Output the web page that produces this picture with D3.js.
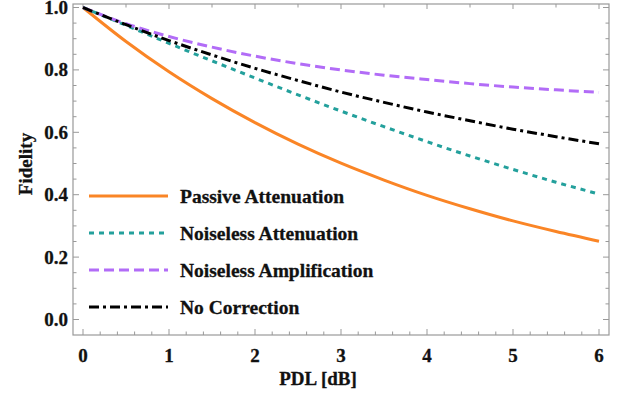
<!DOCTYPE html>
<html>
<head>
<meta charset="utf-8">
<script src="https://cdn.jsdelivr.net/npm/d3@7.9.0/dist/d3.min.js"></script>
<style>
  body { margin: 0; background: #fff; }
</style>
</head>
<body>
<svg id="chart" width="622" height="403"></svg>
<script>
// PDL values in dB (x) and fidelity
const pdl = [0, 0.5, 1, 1.5, 2, 2.5, 3, 3.5, 4, 4.5, 5, 5.5, 6];
const passiveAtt = [1, 0.891, 0.794, 0.708, 0.631, 0.562, 0.501, 0.447, 0.398, 0.355, 0.316, 0.282, 0.251];
const noiselessAtt = [1, 0.943, 0.885, 0.829, 0.774, 0.720, 0.668, 0.618, 0.570, 0.524, 0.481, 0.440, 0.402];
const noiselessAmp = [1, 0.948, 0.907, 0.873, 0.844, 0.820, 0.800, 0.783, 0.769, 0.756, 0.745, 0.736, 0.728];
const noCorrection = [1, 0.945, 0.894, 0.848, 0.805, 0.766, 0.729, 0.696, 0.665, 0.637, 0.610, 0.586, 0.563];

const seriesNames = ["Passive Attenuation", "Noiseless Attenuation", "Noiseless Amplification", "No Correction"];
const xTicks = [0, 1, 2, 3, 4, 5, 6];
const yTicks = [0, 0.2, 0.4, 0.6, 0.8, 1.0];

const series = [
  { name: seriesNames[0], values: passiveAtt, color: "#fa8526", dash: null },
  { name: seriesNames[1], values: noiselessAtt, color: "#23a09c", dash: "5,5" },
  { name: seriesNames[2], values: noiselessAmp, color: "#b26cf7", dash: "10,5" },
  { name: seriesNames[3], values: noCorrection, color: "#000", dash: "10,4,3,4" }
];

const FONT = "'Liberation Serif', 'Times New Roman', serif";

const svg = d3.select("#chart");
const frame = { left: 73, right: 609, top: 4, bottom: 335 };

const x = d3.scaleLinear().domain([0, 6]).range([83, 599]);
const y = d3.scaleLinear().domain([0, 1]).range([319.5, 7.5]);

const axisColor = "#999";

// frame
svg.append("rect")
  .attr("x", frame.left).attr("y", frame.top)
  .attr("width", frame.right - frame.left).attr("height", frame.bottom - frame.top)
  .attr("fill", "none").attr("stroke", axisColor).attr("stroke-width", 1.2);

// ticks drawn inward on all four sides
const g = svg.append("g").attr("stroke", axisColor).attr("stroke-width", 1);
d3.range(0, 6.001, 0.2).forEach(v => {
  const major = Math.abs(v - Math.round(v)) < 1e-6;
  g.append("line").attr("x1", x(v)).attr("x2", x(v))
    .attr("y1", frame.bottom).attr("y2", frame.bottom - (major ? 6 : 3.5));
});
d3.range(0, 6.001, 0.5).forEach(v => {
  const major = Math.abs(v - Math.round(v)) < 1e-6;
  g.append("line").attr("x1", x(v)).attr("x2", x(v))
    .attr("y1", frame.top).attr("y2", frame.top + (major ? 5 : 3.5));
});
d3.range(0, 1.0001, 0.05).forEach(v => {
  const major = Math.abs(v * 5 - Math.round(v * 5)) < 1e-6;
  g.append("line").attr("y1", y(v)).attr("y2", y(v))
    .attr("x1", frame.left).attr("x2", frame.left + (major ? 6 : 3.5));
  g.append("line").attr("y1", y(v)).attr("y2", y(v))
    .attr("x1", frame.right).attr("x2", frame.right - (major ? 6 : 3.5));
});

const txt = svg.append("g")
  .attr("font-family", FONT).attr("font-weight", "bold")
  .attr("font-size", 19).attr("fill", "#111")
  .attr("stroke", "#111").attr("stroke-width", 0.3);

// tick labels
txt.selectAll(".xlab").data(xTicks).enter().append("text")
  .attr("x", d => x(d)).attr("y", 362)
  .attr("text-anchor", "middle")
  .text(d => d);
txt.selectAll(".ylab").data(yTicks).enter().append("text")
  .attr("x", 68).attr("y", d => y(d) + 6.5)
  .attr("text-anchor", "end")
  .text(d => d3.format(".1f")(d));

// axis titles
txt.append("text").attr("x", 318).attr("y", 385)
  .attr("text-anchor", "middle").text("PDL [dB]");
txt.append("text")
  .attr("transform", "translate(32,164) rotate(-90)")
  .attr("text-anchor", "middle").text("Fidelity");

// curves
const line = d3.line()
  .x(d => x(d[0])).y(d => y(d[1]))
  .curve(d3.curveMonotoneX);

svg.append("clipPath").attr("id", "clip").append("rect")
  .attr("x", frame.left).attr("y", frame.top)
  .attr("width", frame.right - frame.left).attr("height", frame.bottom - frame.top);

series.forEach(s => {
  svg.append("path")
    .attr("d", line(pdl.map((p, i) => [p, s.values[i]])))
    .attr("fill", "none")
    .attr("stroke", s.color)
    .attr("stroke-width", 3)
    .attr("stroke-dasharray", s.dash)
    .attr("clip-path", "url(#clip)");
});

// legend
const legendY = [196, 233, 270, 307];
series.forEach((s, i) => {
  svg.append("line")
    .attr("x1", 89).attr("x2", 168)
    .attr("y1", legendY[i]).attr("y2", legendY[i])
    .attr("stroke", s.color).attr("stroke-width", 3)
    .attr("stroke-dasharray", s.dash);
  txt.append("text")
    .attr("x", 180).attr("y", legendY[i] + 6.5)
    .attr("font-size", 19.5)
    .text(s.name);
});
</script>
</body>
</html>
